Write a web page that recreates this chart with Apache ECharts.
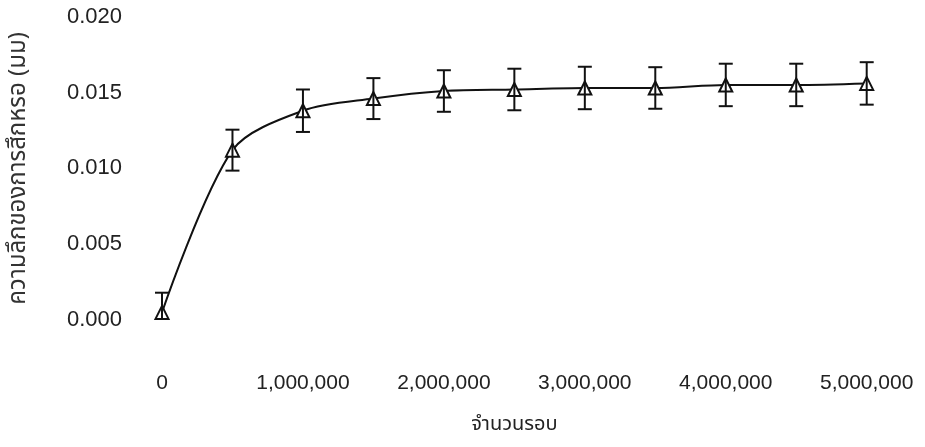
<!DOCTYPE html>
<html>
<head>
<meta charset="utf-8">
<script src="https://cdn.jsdelivr.net/npm/echarts@6/dist/echarts.min.js"></script>
<style>
html,body{margin:0;padding:0;background:#fff;}
#chart{width:925px;height:447px;}
</style>
</head>
<body>
<div id="chart"></div>
<script>
var cycles = [0, 500000, 1000000, 1500000, 2000000, 2500000, 3000000, 3500000, 4000000, 4500000, 5000000];
var wearDepth = [0.0005, 0.0112, 0.0138, 0.0146, 0.0151, 0.0152, 0.0153, 0.0153, 0.0155, 0.0155, 0.0156];
var errorMargin = [0.0013, 0.00135, 0.0014, 0.00135, 0.00137, 0.00137, 0.0014, 0.00137, 0.0014, 0.0014, 0.0014];
var yTickLabels = ['0.000', '0.005', '0.010', '0.015', '0.020'];
var xAxisTitle = 'จำนวนรอบ';
var yAxisTitle = 'ความลึกของการสึกหรอ (มม)';

var FONT = 'Liberation Sans, Arial, Helvetica, sans-serif';
var THAI_FONT = '"Noto Sans Thai", "Noto Sans Thai Looped", Tahoma, "Liberation Sans", sans-serif';
var Y_MIN = 0, Y_MAX = 0.02;

var lineData = cycles.map(function (c, i) { return [c, wearDepth[i]]; });
var errData = cycles.map(function (c, i) { return [c, wearDepth[i] - errorMargin[i], wearDepth[i] + errorMargin[i]]; });

var chart = echarts.init(document.getElementById('chart'));
chart.setOption({
  backgroundColor: '#fff',
  animation: false,
  grid: { left: 160.7, right: 58.3, top: 16.7, bottom: 127 },
  xAxis: {
    type: 'value', min: 0, max: 5000000, interval: 1000000,
    axisLine: { show: false }, axisTick: { show: false }, splitLine: { show: false },
    axisLabel: {
      margin: 53, color: '#222', fontFamily: FONT, fontSize: 21,
      formatter: function (v) { return v.toLocaleString('en-US'); }
    },
    name: xAxisTitle, nameLocation: 'middle', nameGap: 96,
    nameTextStyle: { color: '#222', fontFamily: THAI_FONT, fontSize: 20 }
  },
  yAxis: {
    type: 'value', min: Y_MIN, max: Y_MAX, interval: 0.005,
    axisLine: { show: false }, axisTick: { show: false }, splitLine: { show: false },
    axisLabel: {
      margin: 40, color: '#222', fontFamily: FONT, fontSize: 22,
      formatter: function (v) { return yTickLabels[Math.round(v / 0.005)]; }
    },
    name: yAxisTitle, nameLocation: 'middle', nameGap: 130, nameRotate: 90,
    nameTextStyle: { color: '#333', fontFamily: THAI_FONT, fontSize: 24 }
  },
  series: [
    {
      type: 'line', data: lineData, smooth: 0.3,
      lineStyle: { color: '#111', width: 2 },
      symbol: 'triangle', symbolSize: [13, 13],
      itemStyle: { color: '#fff', borderColor: '#111', borderWidth: 2 },
      z: 2
    },
    {
      type: 'custom', data: errData, clip: false, z: 3,
      renderItem: function (params, api) {
        var x = api.value(0);
        var loVal = api.value(1);
        var clipped = loVal < Y_MIN;
        var lo = api.coord([x, Math.max(loVal, Y_MIN)]);
        var hi = api.coord([x, Math.min(api.value(2), Y_MAX)]);
        var hw = 7;
        var st = { stroke: '#111', lineWidth: 2 };
        var children = [
          { type: 'line', shape: { x1: lo[0], y1: lo[1], x2: hi[0], y2: hi[1] }, style: st },
          { type: 'line', shape: { x1: hi[0] - hw, y1: hi[1], x2: hi[0] + hw, y2: hi[1] }, style: st }
        ];
        if (!clipped) {
          children.push({ type: 'line', shape: { x1: lo[0] - hw, y1: lo[1], x2: lo[0] + hw, y2: lo[1] }, style: st });
        }
        return { type: 'group', children: children };
      }
    }
  ]
});
</script>
</body>
</html>
